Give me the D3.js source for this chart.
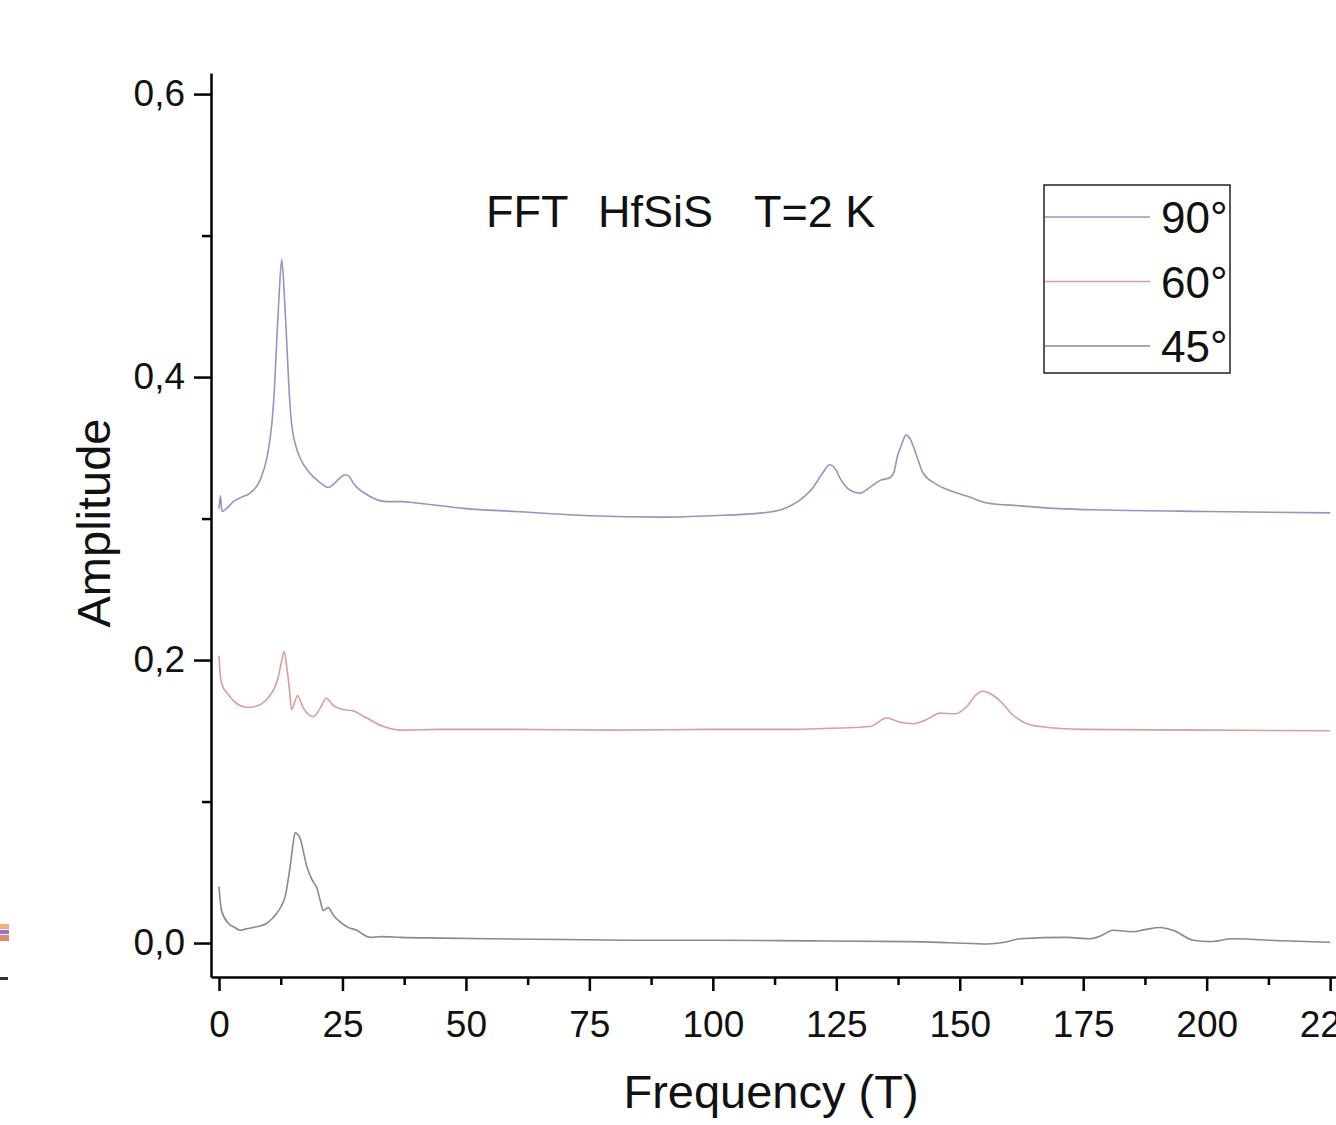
<!DOCTYPE html>
<html>
<head>
<meta charset="utf-8">
<script src="https://cdn.jsdelivr.net/npm/d3@7"></script>
<style>
  body { margin: 0; background: #fff; }
  text { font-family: "Liberation Sans", Arial, sans-serif; fill: #111; }
</style>
</head>
<body>
<div id="container"></div>
<script>
// 90 deg
const freq90 = [0, 0.3, 0.6, 1.5, 2.9, 4.5, 6.3, 8.3, 9.7, 10.7, 11.2, 11.7, 12.2, 12.7, 13.2, 13.7, 14.2, 14.7, 15.5, 16.4,
    18.4, 20.3, 22.1, 23.1, 24.3, 25.5, 26.3, 27.2, 29.9, 34, 37, 40, 50, 60, 75, 90, 100, 110, 113.6, 117.6,
    120.3, 122.2, 123.7, 125, 125.7, 127.8, 129.8, 131.8, 133.9, 135.9, 136.7, 137.3, 138.2, 139.1, 140, 140.6, 141.6, 142.6, 145.4, 149.5,
    152.1, 155.5, 162.2, 170, 180, 200, 225];
const amp90 = [0.307, 0.316, 0.305, 0.307, 0.312, 0.315, 0.318, 0.327, 0.343, 0.367, 0.39, 0.426, 0.46, 0.483, 0.46, 0.426, 0.39, 0.367, 0.352, 0.343,
    0.332, 0.326, 0.322, 0.324, 0.328, 0.331, 0.33, 0.325, 0.317, 0.312, 0.312, 0.311, 0.307, 0.305, 0.302, 0.301, 0.302, 0.304, 0.306, 0.313,
    0.322, 0.332, 0.338, 0.334, 0.329, 0.320, 0.318, 0.322, 0.327, 0.329, 0.333, 0.343, 0.352, 0.359, 0.356, 0.351, 0.341, 0.332, 0.324, 0.318,
    0.315, 0.311, 0.309, 0.307, 0.306, 0.305, 0.304];

// 60 deg
const freq60 = [0, 0.3, 0.8, 1.6, 3, 4.9, 6.2, 7.6, 9, 10.3, 11.2, 12, 12.6, 13.2, 13.8, 14.3, 14.7, 15.3, 15.9, 16.5,
    17.1, 19.1, 20.5, 21.7, 23.1, 25.2, 27.2, 29.9, 33.3, 36.7, 45, 60, 80, 100, 115, 125.8, 131.8, 135.2, 137.9, 140.6,
    143.3, 146, 149, 151.4, 153.2, 154.6, 156.3, 158.2, 160.8, 163.6, 166.3, 175, 200, 225];
const amp60 = [0.203, 0.188, 0.181, 0.177, 0.171, 0.167, 0.1665, 0.1675, 0.17, 0.175, 0.18, 0.188, 0.198, 0.206, 0.193, 0.178, 0.165, 0.17, 0.175, 0.171,
    0.166, 0.160, 0.166, 0.173, 0.168, 0.165, 0.164, 0.159, 0.153, 0.1505, 0.151, 0.151, 0.1505, 0.151, 0.151, 0.152, 0.153, 0.159, 0.156, 0.155,
    0.158, 0.1625, 0.162, 0.167, 0.175, 0.178, 0.176, 0.171, 0.161, 0.155, 0.153, 0.151, 0.1505, 0.150];

// 45 deg
const freq45 = [0, 0.5, 1.9, 3.2, 4.3, 5.5, 6.9, 8.3, 9.7, 10.7, 11.7, 12.6, 13.4, 14.4, 15, 15.4, 16.3, 17.8, 18.8, 19.8,
    20.5, 21.1, 22.1, 23.3, 24.5, 26.2, 27.9, 29.2, 30.6, 33, 36.7, 45, 55, 70, 85, 100, 120, 140, 148, 155.7,
    159, 162.2, 171.7, 176.4, 178.5, 181.1, 185.1, 187.5, 190.6, 193.2, 197.3, 200.7, 205.3, 215.5, 225];
const amp45 = [0.040, 0.023, 0.014, 0.011, 0.009, 0.010, 0.011, 0.012, 0.014, 0.017, 0.021, 0.026, 0.033, 0.054, 0.070, 0.078, 0.075, 0.054, 0.045, 0.039,
    0.030, 0.023, 0.025, 0.019, 0.015, 0.011, 0.009, 0.006, 0.004, 0.0045, 0.004, 0.0035, 0.003, 0.0025, 0.002, 0.002, 0.0015, 0.001, 0.0002, -0.0007,
    0.0005, 0.003, 0.004, 0.003, 0.005, 0.009, 0.008, 0.0095, 0.011, 0.009, 0.002, 0.001, 0.003, 0.0016, 0.0005];

const seriesNames = ["90°", "60°", "45°"];
const seriesColors = ["#9494c4", "#dc9c9c", "#8a8a8a"];

const xMajor = [0, 25, 50, 75, 100, 125, 150, 175, 200, 225];
const xMinor = [12.5, 37.5, 62.5, 87.5, 112.5, 137.5, 162.5, 187.5, 212.5];
const yMajor = [0, 0.2, 0.4, 0.6];
const yMinor = [0.1, 0.3, 0.5];

const titleParts = ["FFT", "HfSiS", "T=2 K"];

const width = 1336,
      height = 1125;

var svg = d3.select("#container").append("svg")
    .attr("width", width)
    .attr("height", height)
    .style("display", "block");

var x = d3.scaleLinear()
    .domain([-1.62, 227])
    .range([211, 1340]);

var y = d3.scaleLinear()
    .domain([-0.024, 0.6149])
    .range([977, 73]);

var line = d3.line()
    .x(function(d) { return x(d[0]); })
    .y(function(d) { return y(d[1]); })
    .curve(d3.curveMonotoneX);

var series = [
    d3.zip(freq90, amp90),
    d3.zip(freq60, amp60),
    d3.zip(freq45, amp45)
];

series.forEach(function(s, i) {
    svg.append("path")
        .datum(s)
        .attr("fill", "none")
        .attr("stroke", seriesColors[i])
        .attr("stroke-width", 1.6)
        .attr("d", line);
});

// x-axis
svg.append("g")
    .attr("transform", `translate(0, 977)`)
    .call(d3.axisBottom(x).tickValues(xMajor).tickSize(14).tickSizeOuter(0).tickPadding(20));
svg.append("g")
    .attr("transform", `translate(0, 977)`)
    .call(d3.axisBottom(x).tickValues(xMinor).tickSize(8).tickFormat("").tickSizeOuter(0))
    .select(".domain").remove();

// y-axis
svg.append("g")
    .attr("transform", `translate(211, 0)`)
    .call(d3.axisLeft(y).tickValues(yMajor).tickSize(17).tickSizeOuter(0).tickPadding(9)
        .tickFormat(function(d) { return d3.format(".1f")(d).replace(".", ","); }));
svg.append("g")
    .attr("transform", `translate(211, 0)`)
    .call(d3.axisLeft(y).tickValues(yMinor).tickSize(9).tickFormat("").tickSizeOuter(0))
    .select(".domain").remove();

svg.selectAll(".domain, .tick line")
    .attr("stroke", "#000")
    .attr("stroke-width", 2.5);
svg.selectAll(".tick text")
    .style("font-family", "'Liberation Sans', Arial, sans-serif")
    .style("font-size", "37px")
    .attr("fill", "#111");

// axis titles
svg.append("text")
    .attr("x", 771)
    .attr("y", 1108)
    .attr("text-anchor", "middle")
    .style("font-size", "47px")
    .text("Frequency (T)");

svg.append("text")
    .attr("transform", `translate(110, 523) rotate(-90)`)
    .attr("text-anchor", "middle")
    .style("font-size", "47px")
    .text("Amplitude");

// title
var title = svg.append("text")
    .attr("y", 227)
    .style("font-size", "45px");
var titleX = [486, 598, 754];
titleParts.forEach(function(p, i) {
    title.append("tspan").attr("x", titleX[i]).text(p);
});

// legend
var legend = svg.append("g");
legend.append("rect")
    .attr("x", 1044)
    .attr("y", 185)
    .attr("width", 186)
    .attr("height", 188)
    .attr("fill", "#fff")
    .attr("stroke", "#222")
    .attr("stroke-width", 1.5);

seriesNames.forEach(function(name, i) {
    var ly = 217 + i * 64.5;
    legend.append("line")
        .attr("x1", 1045)
        .attr("x2", 1150)
        .attr("y1", ly)
        .attr("y2", ly)
        .attr("stroke", seriesColors[i])
        .attr("stroke-width", 1.6);
    legend.append("text")
        .attr("x", 1161)
        .attr("y", ly + 16)
        .style("font-size", "44px")
        .text(name);
});

// small stray marks at the left edge
svg.append("rect").attr("x", 0).attr("y", 924).attr("width", 9).attr("height", 5).attr("fill", "#f0b070");
svg.append("rect").attr("x", 0).attr("y", 930).attr("width", 9).attr("height", 4).attr("fill", "#9b6fd0");
svg.append("rect").attr("x", 0).attr("y", 935).attr("width", 9).attr("height", 6).attr("fill", "#e08a6a");
svg.append("rect").attr("x", 0).attr("y", 977).attr("width", 8).attr("height", 3).attr("fill", "#333");
</script>
</body>
</html>
